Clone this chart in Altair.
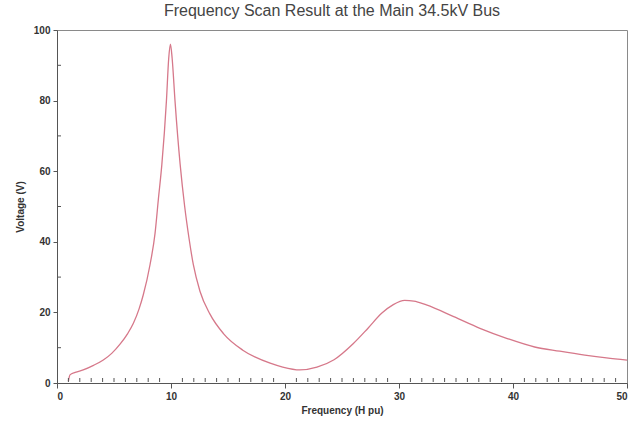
import altair as alt
import pandas as pd

# Frequency scan data
freq = [1.0, 1.14, 1.6, 2.3, 3.2, 4.06, 4.8, 5.53, 6.2, 6.7, 7.2, 7.57, 8.16, 8.6,
        8.89, 9.2, 9.6, 9.8, 9.95, 10.1, 10.35, 10.8, 11.2, 11.58, 11.96, 12.54,
        13.42, 14.6, 16.3, 18.7, 19.8, 21.3, 22.8, 24.3, 26.0, 27.3, 28.5, 29.5,
        30.5, 31.3, 32.4, 34.8, 37.1, 39.5, 41.9, 44.1, 46.3, 48.2, 50.0]
volt = [0.5, 2.3, 3.0, 3.7, 5.0, 6.5, 8.4, 11.0, 14.0, 16.9, 21.0, 25.0, 33.5,
        42.4, 52.0, 62.0, 80.0, 92.0, 96.0, 92.0, 80.0, 62.0, 50.0, 41.0, 33.5,
        26.0, 19.5, 14.0, 9.3, 5.6, 4.5, 3.7, 4.5, 6.6, 11.2, 15.6, 19.8, 22.2,
        23.4, 23.2, 22.1, 18.8, 15.5, 12.6, 10.2, 9.0, 7.9, 7.1, 6.5]

x_major = [0, 10, 20, 30, 40, 50]
y_major = [0, 20, 40, 60, 80, 100]
x_minor = [i for i in range(1, 50) if i % 10 != 0]
y_minor = [10, 30, 50, 70, 90]

W, H = 570, 353
AX = "#555555"
FONT = "Liberation Sans"

df = pd.DataFrame({"f": freq, "v": volt})

xscale = alt.Scale(domain=[0, 50], nice=False, zero=False)
yscale = alt.Scale(domain=[0, 100], nice=False)
xaxis = alt.Axis(values=x_major, title="Frequency (H pu)", tickSize=5,
                 labelPadding=3, titlePadding=4)
yaxis = alt.Axis(values=y_major, title="Voltage (V)", tickSize=4,
                 labelPadding=3, titlePadding=8)

line = alt.Chart(df).mark_line(
    color="#d6788a", strokeWidth=1.3, interpolate="monotone"
).encode(
    x=alt.X("f:Q", scale=xscale, axis=xaxis),
    y=alt.Y("v:Q", scale=yscale, axis=yaxis),
)

xmin = alt.Chart(pd.DataFrame({"f": x_minor})).mark_rule(
    color=AX, strokeWidth=1
).encode(
    x=alt.X("f:Q", scale=xscale, axis=xaxis),
    y=alt.value(H - 1),
    y2=alt.value(H - 5),
)

ymin = alt.Chart(pd.DataFrame({"v": y_minor})).mark_rule(
    color=AX, strokeWidth=1
).encode(
    y=alt.Y("v:Q", scale=yscale, axis=yaxis),
    x=alt.value(0),
    x2=alt.value(4),
)

chart = alt.layer(line, xmin, ymin).properties(
    width=W,
    height=H,
    autosize="none",
    padding={"left": 57, "top": 30, "right": 11, "bottom": 40},
    background="white",
    title=alt.TitleParams(
        "Frequency Scan Result at the Main 34.5kV Bus",
        font=FONT, fontSize=16, fontWeight="normal", color="#444444",
        anchor="middle", offset=6, dx=-10,
    ),
).configure_view(
    stroke="#8a8a8a", strokeWidth=1
).configure_axis(
    grid=False,
    domainColor=AX,
    tickColor=AX,
    labelFont=FONT,
    labelFontSize=10,
    labelFontWeight="bold",
    labelColor="#333333",
    titleFont=FONT,
    titleFontSize=10,
    titleFontWeight="bold",
    titleColor="#333333",
)

chart.save("out.html", embed_options={"renderer": "svg", "actions": False})
